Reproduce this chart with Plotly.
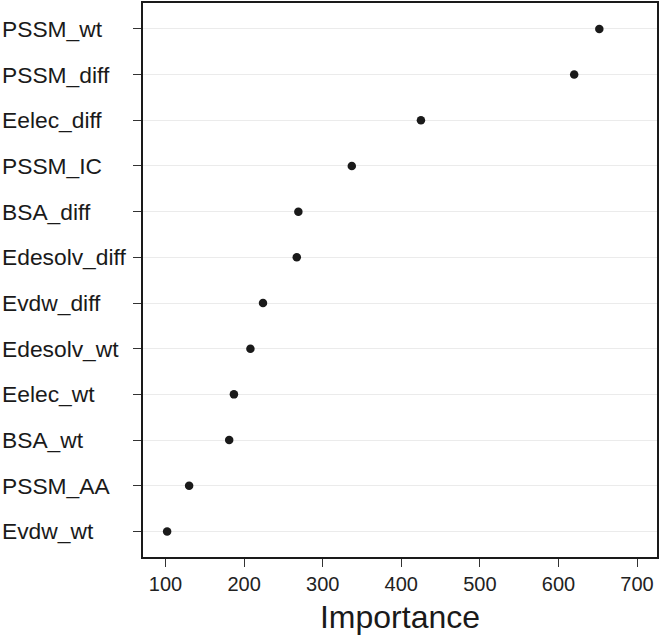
import plotly.graph_objects as go

features = ["PSSM_wt", "PSSM_diff", "Eelec_diff", "PSSM_IC", "BSA_diff", "Edesolv_diff",
            "Evdw_diff", "Edesolv_wt", "Eelec_wt", "BSA_wt", "PSSM_AA", "Evdw_wt"]
importance = [652, 620, 425, 337, 269, 267, 224, 208, 187, 181, 130, 102]
x_ticks = [100, 200, 300, 400, 500, 600, 700]

FONT = "Liberation Sans, Arial, Helvetica, sans-serif"
INK = "#1a1a1a"

fig = go.Figure()
fig.add_trace(go.Scatter(
    x=importance, y=features, mode="markers",
    marker=dict(size=8.5, color=INK),
    showlegend=False, hoverinfo="x+y",
))

for f in features:
    fig.add_annotation(
        x=0, xref="paper", y=f, yref="y", xanchor="left", yanchor="middle",
        xshift=-143, text=f, showarrow=False,
        font=dict(family=FONT, size=22.8, color=INK),
    )

fig.update_layout(
    width=661, height=636,
    margin=dict(l=143, r=4, t=1, b=79),
    paper_bgcolor="white", plot_bgcolor="white",
    font=dict(family=FONT, color=INK),
    xaxis=dict(
        range=[71.3, 725.4], tickvals=x_ticks, ticktext=[str(v) for v in x_ticks],
        showgrid=False, zeroline=False,
        showline=True, linecolor=INK, linewidth=2, mirror=True,
        ticks="outside", ticklen=8, tickwidth=1.2, tickcolor="#333333",
        tickfont=dict(family=FONT, size=20, color="#222222"),
        title=dict(text="Importance", font=dict(family=FONT, size=32, color=INK), standoff=12),
    ),
    yaxis=dict(
        type="category", categoryorder="array", categoryarray=features,
        range=[11.56, -0.567],
        showgrid=True, gridcolor="#ebebeb", gridwidth=1.2, zeroline=False,
        showline=True, linecolor=INK, linewidth=2, mirror=True,
        ticks="outside", ticklen=8, tickwidth=1.2, tickcolor="#333333",
        showticklabels=False,
    ),
)

fig.write_html(
    "out.html",
    config={"displayModeBar": False},
    post_script="document.body.style.margin='0px';document.body.style.overflow='hidden';",
)
